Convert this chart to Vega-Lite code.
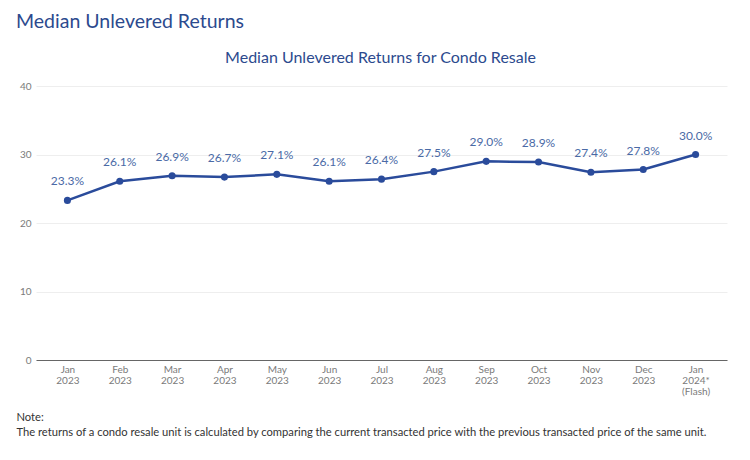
{
  "$schema": "https://vega.github.io/schema/vega-lite/v6.json",
  "width": 691,
  "height": 274,
  "autosize": "none",
  "padding": {"left": 36, "top": 86, "right": 23, "bottom": 100},
  "background": "white",
  "config": {"view": {"stroke": null}, "font": "Lato"},
  "title": {
    "text": "Median Unlevered Returns",
    "anchor": "start",
    "frame": "group",
    "dx": -20,
    "dy": -13,
    "fontSize": 19.5,
    "fontWeight": "normal",
    "color": "#2c4a8e",
    "font": "Lato"
  },
  "data": {
    "values": [
      {"month": "Jan 2023", "value": 23.3},
      {"month": "Feb 2023", "value": 26.1},
      {"month": "Mar 2023", "value": 26.9},
      {"month": "Apr 2023", "value": 26.7},
      {"month": "May 2023", "value": 27.1},
      {"month": "Jun 2023", "value": 26.1},
      {"month": "Jul 2023", "value": 26.4},
      {"month": "Aug 2023", "value": 27.5},
      {"month": "Sep 2023", "value": 29.0},
      {"month": "Oct 2023", "value": 28.9},
      {"month": "Nov 2023", "value": 27.4},
      {"month": "Dec 2023", "value": 27.8},
      {"month": "Jan 2024* (Flash)", "value": 30.0}
    ]
  },
  "transform": [{"calculate": "format(datum.value, '.1f') + '%'", "as": "label"}],
  "encoding": {
    "x": {
      "field": "month",
      "type": "ordinal",
      "sort": null,
      "scale": {"type": "point", "padding": 0.6},
      "axis": {
        "title": ["Note:", "The returns of a condo resale unit is calculated by comparing the current transacted price with the previous transacted price of the same unit."],
        "titleX": -20,
        "titleY": 51,
        "titleAlign": "left",
        "titleAnchor": "start",
        "titleBaseline": "top",
        "titleFontSize": 11.2,
        "titleFontWeight": "normal",
        "titleColor": "#333333",
        "titleLineHeight": 15,
        "labelAngle": 0,
        "labelExpr": "split(datum.label, ' ')",
        "labelFontSize": 10,
        "labelColor": "#7a7a7a",
        "labelLineHeight": 11,
        "labelPadding": 4,
        "ticks": false,
        "domainColor": "#666666",
        "grid": false
      }
    },
    "y": {
      "field": "value",
      "type": "quantitative",
      "scale": {"domain": [0, 40]},
      "axis": {
        "values": [0, 10, 20, 30, 40],
        "title": "Median Unlevered Returns for Condo Resale",
        "titleAngle": 0,
        "titleX": 344,
        "titleY": -29,
        "titleAlign": "center",
        "titleBaseline": "middle",
        "titleFontSize": 16,
        "titleFontWeight": "normal",
        "titleColor": "#2c4a8e",
        "domain": false,
        "ticks": false,
        "labelPadding": 5,
        "labelFontSize": 10,
        "labelColor": "#7a7a7a",
        "gridColor": "#eeeeee"
      }
    }
  },
  "layer": [
    {"mark": {"type": "line", "color": "#2a4b9b", "strokeWidth": 2.5}},
    {"mark": {"type": "point", "filled": true, "color": "#2a4b9b", "size": 50, "opacity": 1}},
    {
      "mark": {"type": "text", "dy": -19, "fontSize": 12, "color": "#4a6aa6"},
      "encoding": {"text": {"field": "label"}}
    }
  ]
}
